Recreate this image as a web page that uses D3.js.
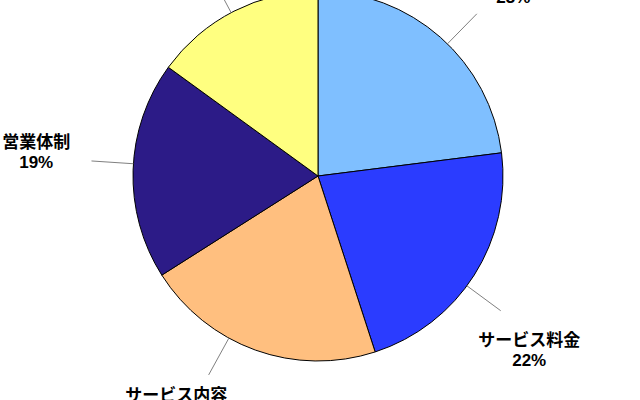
<!DOCTYPE html>
<html>
<head>
<meta charset="utf-8">
<script src="https://cdn.jsdelivr.net/npm/d3@7"></script>
<style>
  body { margin: 0; background: #fff; }
</style>
</head>
<body>
<script>
// data (top label names are cut off in the reference)
var categories = ['担当者の対応', 'サービス料金', 'サービス内容', '営業体制', 'その他'];
var shares = [23, 22, 21, 19, 15];
var colors = ['#7fbfff', '#2b3cff', '#ffbf7f', '#2c1b87', '#ffff80'];

// layout
var width = 640, height = 400;
var cx = 318, cy = 176, radius = 185;
var leaderNudge = [3, 4, 9, 2, -1];    // degrees, Excel moved the labels a bit
var labelNudge = [4.5, 7, 12, 3, -1];

var svg = d3.select('body').append('svg')
    .attr('width', width)
    .attr('height', height);

var g = svg.append('g')
    .attr('transform', 'translate(' + cx + ',' + cy + ')');

var pie = d3.pie().sort(null).value(d => d)(shares);

var arc = d3.arc().innerRadius(0).outerRadius(radius);

g.selectAll('path.slice')
    .data(pie)
    .enter()
    .append('path')
        .attr('class', 'slice')
        .attr('d', arc)
        .attr('fill', (d, i) => colors[i])
        .attr('stroke', '#000')
        .attr('stroke-width', 1);

let midOf = d => (d.startAngle + d.endAngle) / 2;
let rad = deg => deg * Math.PI / 180;
let pointAt = (a, r) => [Math.sin(a) * r, -Math.cos(a) * r];
let leaderAngle = (d, i) => midOf(d) + rad(leaderNudge[i]);

g.selectAll('line.leader')
    .data(pie)
    .enter()
    .append('line')
        .attr('class', 'leader')
        .attr('x1', (d, i) => pointAt(leaderAngle(d, i), radius)[0])
        .attr('y1', (d, i) => pointAt(leaderAngle(d, i), radius)[1])
        .attr('x2', (d, i) => pointAt(leaderAngle(d, i), radius + 42)[0])
        .attr('y2', (d, i) => pointAt(leaderAngle(d, i), radius + 42)[1])
        .attr('stroke', '#808080')
        .attr('stroke-width', 1);

// labels sit a little past the leader end; wide boxes push out more sideways
let labelPos = (d, i) => {
    var a = midOf(d) + rad(labelNudge[i]);
    var r = 268 + 15 * Math.pow(Math.abs(Math.sin(a)), 4);
    return pointAt(a, r);
};

var labels = g.selectAll('text.label')
    .data(pie)
    .enter()
    .append('text')
        .attr('class', 'label')
        .attr('text-anchor', 'middle')
        .attr('font-family', '"Liberation Sans", "Noto Sans CJK JP", sans-serif')
        .attr('font-weight', 'bold')
        .attr('font-size', 17)
        .attr('fill', '#000')
        .attr('transform', (d, i) => 'translate(' + labelPos(d, i) + ')');

labels.append('tspan')
    .attr('x', 0)
    .attr('y', -4)
    .text((d, i) => categories[i]);

labels.append('tspan')
    .attr('x', 0)
    .attr('y', 16)
    .text(d => d.data + '%');
</script>
</body>
</html>
